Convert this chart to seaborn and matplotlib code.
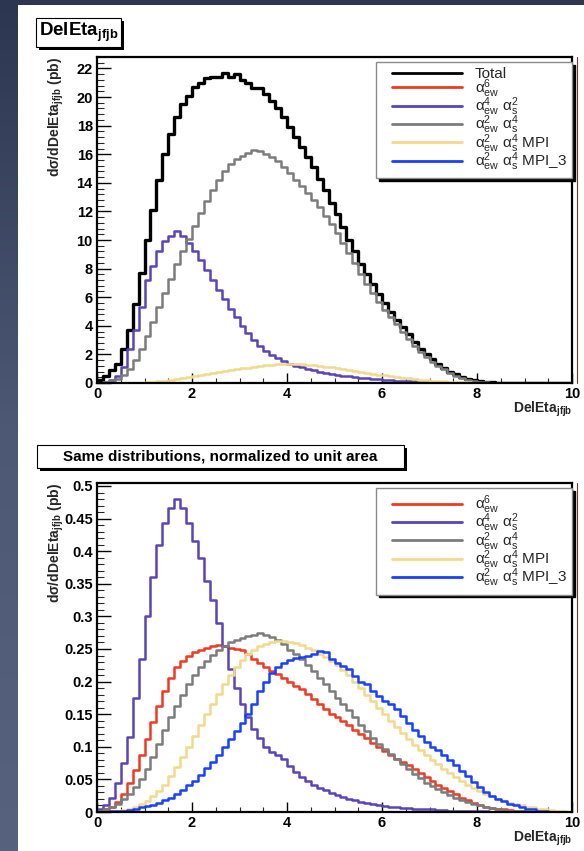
import numpy as np
import pandas as pd
import seaborn as sns
import matplotlib.pyplot as plt
from matplotlib.lines import Line2D
from matplotlib.patches import Rectangle
from matplotlib.legend_handler import HandlerLine2D
from matplotlib.ticker import MultipleLocator, FuncFormatter
from matplotlib.colors import LinearSegmentedColormap

sns.set_theme(style="white")
plt.rcParams['font.family'] = ['Liberation Sans', 'DejaVu Sans']
plt.rcParams['mathtext.fontset'] = 'custom'
plt.rcParams['mathtext.rm'] = 'Liberation Sans'
plt.rcParams['mathtext.it'] = 'Liberation Sans:italic'
plt.rcParams['mathtext.bf'] = 'Liberation Sans:bold'
plt.rcParams['mathtext.default'] = 'regular'

# 80 bins of width 0.125 on DelEta_jfjb in [0, 10]
n_bins = 80
bin_centers = (np.arange(n_bins) + 0.5) * 0.125

# ---- top pad: d sigma / d DelEta (pb) ----
top_total = [
    0.2, 0.5, 0.9, 1.3, 2.4, 3.7, 5.5, 7.7, 10.0, 12.1,
    14.2, 16.0, 17.4, 18.6, 19.5, 20.1, 20.7, 21.0, 21.3, 21.4,
    21.4, 21.7, 21.4, 21.6, 21.2, 21.0, 20.6, 20.6, 20.2, 19.7,
    19.2, 18.6, 17.9, 17.2, 16.5, 15.8, 15.1, 14.3, 13.5, 12.6,
    11.8, 10.9, 10.0, 9.2, 8.3, 7.6, 6.9, 6.2, 5.6, 5.0,
    4.4, 3.9, 3.4, 2.9, 2.4, 2.0, 1.65, 1.35, 1.05, 0.8,
    0.6, 0.42, 0.28, 0.18, 0.11, 0.06, 0.04, 0.02, 0.01, 0,
    0, 0, 0, 0, 0, 0, 0, 0, 0, 0,
]
top_ew6 = [
    0, 0, 0, 0, 0, 0, 0, 0, 0, 0,
    0, 0, 0, 0, 0, 0, 0, 0, 0, 0,
    0, 0, 0, 0, 0, 0, 0, 0, 0, 0,
    0, 0, 0, 0, 0, 0, 0, 0, 0, 0,
    0, 0, 0, 0, 0, 0, 0, 0, 0, 0,
    0, 0, 0, 0, 0, 0, 0, 0, 0, 0,
    0, 0, 0, 0, 0, 0, 0, 0, 0, 0,
    0, 0, 0, 0, 0, 0, 0, 0, 0, 0,
]
top_ew4s2 = [
    0.0, 0.05, 0.2, 0.5, 1.1, 2.4, 3.7, 5.3, 7.2, 8.2,
    9.2, 9.9, 10.3, 10.6, 10.3, 9.8, 9.2, 8.6, 7.9, 7.2,
    6.5, 5.9, 5.2, 4.6, 4.0, 3.5, 3.0, 2.6, 2.25, 1.95,
    1.72, 1.52, 1.36, 1.22, 1.09, 0.98, 0.88, 0.79, 0.71, 0.64,
    0.57, 0.51, 0.46, 0.41, 0.37, 0.33, 0.29, 0.26, 0.23, 0.2,
    0.17, 0.15, 0.13, 0.11, 0.09, 0.07, 0.06, 0.05, 0.04, 0.03,
    0.02, 0.01, 0, 0, 0, 0, 0, 0, 0, 0,
    0, 0, 0, 0, 0, 0, 0, 0, 0, 0,
]
top_ew2s4 = [
    0.0, 0.05, 0.15, 0.3, 0.55, 1.0, 1.6, 2.4, 3.3, 4.3,
    5.3, 6.3, 7.3, 8.3, 9.2, 10.1, 11.0, 11.9, 12.7, 13.5,
    14.2, 14.8, 15.3, 15.7, 15.9, 16.1, 16.3, 16.2, 16.0, 15.8,
    15.5, 15.1, 14.7, 14.2, 13.8, 13.3, 12.8, 12.3, 11.7, 11.1,
    10.5, 9.8, 9.1, 8.4, 7.6, 6.9, 6.3, 5.7, 5.1, 4.6,
    4.1, 3.6, 3.1, 2.6, 2.2, 1.8, 1.5, 1.2, 0.95, 0.72,
    0.52, 0.36, 0.24, 0.15, 0.09, 0.05, 0.03, 0.02, 0.01, 0,
    0, 0, 0, 0, 0, 0, 0, 0, 0, 0,
]
top_mpi = [
    0, 0, 0, 0, 0, 0.01, 0.02, 0.03, 0.05, 0.08,
    0.12, 0.16, 0.21, 0.27, 0.33, 0.4, 0.46, 0.53, 0.6, 0.67,
    0.74, 0.81, 0.88, 0.95, 1.02, 1.08, 1.14, 1.2, 1.25, 1.29,
    1.32, 1.35, 1.35, 1.34, 1.32, 1.29, 1.25, 1.2, 1.15, 1.09,
    1.03, 0.97, 0.9, 0.84, 0.77, 0.71, 0.65, 0.59, 0.53, 0.47,
    0.42, 0.37, 0.32, 0.28, 0.24, 0.2, 0.17, 0.14, 0.11, 0.09,
    0.07, 0.05, 0.04, 0.03, 0.02, 0.01, 0, 0, 0, 0,
    0, 0, 0, 0, 0, 0, 0, 0, 0, 0,
]
top_mpi3 = [
    0, 0, 0, 0, 0, 0, 0, 0, 0, 0,
    0, 0, 0, 0, 0, 0, 0, 0, 0, 0,
    0, 0, 0, 0, 0, 0, 0, 0, 0, 0,
    0, 0, 0, 0, 0, 0, 0, 0, 0, 0,
    0, 0, 0, 0, 0, 0, 0, 0, 0, 0,
    0, 0, 0, 0, 0, 0, 0, 0, 0, 0,
    0, 0, 0, 0, 0, 0, 0, 0, 0, 0,
    0, 0, 0, 0, 0, 0, 0, 0, 0, 0,
]

# ---- bottom pad: same distributions normalized to unit area ----
norm_ew6 = [
    0.002, 0.004, 0.007, 0.015, 0.028, 0.045, 0.065, 0.088, 0.112, 0.138,
    0.163, 0.185, 0.205, 0.222, 0.232, 0.24, 0.245, 0.249, 0.252, 0.255,
    0.256, 0.254, 0.252, 0.25, 0.248, 0.243, 0.235, 0.228, 0.222, 0.217,
    0.212, 0.206, 0.2, 0.194, 0.188, 0.181, 0.174, 0.166, 0.158, 0.151,
    0.145, 0.139, 0.133, 0.126, 0.119, 0.113, 0.106, 0.099, 0.093, 0.088,
    0.082, 0.077, 0.072, 0.066, 0.06, 0.054, 0.047, 0.042, 0.037, 0.032,
    0.027, 0.022, 0.018, 0.014, 0.011, 0.008, 0.006, 0.005, 0.004, 0.003,
    0.002, 0.001, 0, 0, 0, 0, 0, 0, 0, 0,
]
norm_ew4s2 = [
    0.004, 0.01, 0.022, 0.045, 0.075, 0.115, 0.175, 0.235, 0.3, 0.36,
    0.41, 0.443, 0.466, 0.48, 0.466, 0.443, 0.415, 0.39, 0.355, 0.325,
    0.29, 0.255, 0.22, 0.19, 0.165, 0.145, 0.128, 0.113, 0.1, 0.092,
    0.087, 0.082, 0.07, 0.062, 0.054, 0.047, 0.042, 0.037, 0.033, 0.029,
    0.026, 0.023, 0.02, 0.018, 0.016, 0.014, 0.012, 0.011, 0.009, 0.008,
    0.007, 0.006, 0.006, 0.005, 0.005, 0.004, 0.004, 0.003, 0.003, 0.002,
    0.002, 0.002, 0.001, 0.001, 0.001, 0.001, 0, 0, 0, 0,
    0, 0, 0, 0, 0, 0, 0, 0, 0, 0,
]
norm_ew2s4 = [
    0.002, 0.004, 0.008, 0.013, 0.02, 0.028, 0.038, 0.05, 0.066, 0.085,
    0.105, 0.125, 0.145, 0.163, 0.18, 0.196, 0.21, 0.222, 0.232, 0.241,
    0.249, 0.255, 0.26, 0.264, 0.267, 0.27, 0.272, 0.274, 0.272, 0.269,
    0.264, 0.257, 0.249, 0.242, 0.234, 0.225, 0.216, 0.206, 0.196, 0.186,
    0.175, 0.166, 0.156, 0.145, 0.134, 0.124, 0.114, 0.105, 0.097, 0.089,
    0.081, 0.074, 0.066, 0.059, 0.052, 0.045, 0.04, 0.035, 0.03, 0.026,
    0.022, 0.018, 0.015, 0.012, 0.01, 0.008, 0.006, 0.004, 0.003, 0.002,
    0.001, 0.001, 0, 0, 0, 0, 0, 0, 0, 0,
]
norm_mpi = [
    0, 0, 0.001, 0.002, 0.003, 0.005, 0.008, 0.012, 0.017, 0.024,
    0.032, 0.042, 0.055, 0.069, 0.085, 0.1, 0.117, 0.133, 0.15, 0.166,
    0.181, 0.196, 0.21, 0.222, 0.233, 0.242, 0.249, 0.254, 0.258, 0.26,
    0.262, 0.263, 0.261, 0.259, 0.256, 0.252, 0.248, 0.243, 0.238, 0.232,
    0.225, 0.218, 0.21, 0.2, 0.19, 0.18, 0.17, 0.16, 0.15, 0.14,
    0.13, 0.121, 0.112, 0.103, 0.095, 0.087, 0.08, 0.073, 0.066, 0.06,
    0.054, 0.048, 0.042, 0.037, 0.032, 0.028, 0.024, 0.02, 0.017, 0.014,
    0.012, 0.01, 0.008, 0.007, 0.005, 0.004, 0.003, 0.002, 0.001, 0,
]
norm_mpi3 = [
    0, 0, 0.001, 0.001, 0.002, 0.003, 0.005, 0.007, 0.009, 0.011,
    0.014, 0.018, 0.022, 0.028, 0.034, 0.041, 0.048, 0.057, 0.067, 0.077,
    0.088, 0.1, 0.112, 0.124, 0.137, 0.15, 0.165, 0.185, 0.2, 0.213,
    0.222, 0.229, 0.233, 0.236, 0.237, 0.24, 0.243, 0.247, 0.245, 0.235,
    0.228, 0.224, 0.219, 0.208, 0.2, 0.196, 0.186, 0.178, 0.17, 0.165,
    0.158, 0.148, 0.136, 0.126, 0.116, 0.108, 0.1, 0.095, 0.087, 0.08,
    0.072, 0.063, 0.055, 0.046, 0.038, 0.03, 0.025, 0.02, 0.017, 0.013,
    0.01, 0.007, 0.005, 0.004, 0.002, 0.001, 0, 0, 0, 0,
]

labels = {
    'total': 'Total',
    'ew6': r'$\alpha_{ew}^{6}$',
    'ew4s2': r'$\alpha_{ew}^{4}\ \alpha_{s}^{2}$',
    'ew2s4': r'$\alpha_{ew}^{2}\ \alpha_{s}^{4}$',
    'mpi': r'$\alpha_{ew}^{2}\ \alpha_{s}^{4}$ MPI',
    'mpi3': r'$\alpha_{ew}^{2}\ \alpha_{s}^{4}$ MPI_3',
}
colors = {
    'total': '#000000',
    'ew6': '#ee3a24',
    'ew4s2': '#5a44b8',
    'ew2s4': '#7c7c7c',
    'mpi': '#f2d98c',
    'mpi3': '#1840ff',
}

W, H = 584, 851
fig = plt.figure(figsize=(W / 100, H / 100), dpi=100)


def px_rect(x0, y0, x1, y1):
    return [x0 / W, 1 - y1 / H, (x1 - x0) / W, (y1 - y0) / H]


# slide background + white panel
bg = fig.add_axes([0, 0, 1, 1], zorder=-10)
cmap = LinearSegmentedColormap.from_list('slide', ['#2d3650', '#4c5874', '#56627e'])
bg.imshow(np.linspace(0, 1, 256).reshape(-1, 1), cmap=cmap, aspect='auto', extent=[0, 1, 0, 1])
bg.set_axis_off()
fig.add_artist(Rectangle((18 / W, 0), 1, 1 - 5 / H, transform=fig.transFigure,
                         facecolor='white', edgecolor='none', zorder=-5))


def title_box(x0, y0, x1, y1, text, size):
    fig.add_artist(Rectangle(((x0 + 3) / W, 1 - (y1 + 3) / H), (x1 - x0) / W, (y1 - y0) / H,
                             transform=fig.transFigure, facecolor='black', edgecolor='none'))
    fig.add_artist(Rectangle((x0 / W, 1 - y1 / H), (x1 - x0) / W, (y1 - y0) / H,
                             transform=fig.transFigure, facecolor='white', edgecolor='black', lw=0.8))
    fig.text((x0 + x1) / 2 / W, 1 - (y0 + y1) / 2 / H, text, ha='center', va='center',
             fontsize=size, fontweight='bold', color='black')


def pad_edge(y0, y1):
    # thin reddish pad border on the right of each pad
    fig.add_artist(Line2D([577 / W, 577 / W], [1 - y1 / H, 1 - y0 / H], transform=fig.transFigure,
                          color='#7a3426', lw=0.8))


def draw_hist(ax, values, key, lw):
    df = pd.DataFrame({'deleta': bin_centers, 'xsec': values})
    sns.histplot(data=df, x='deleta', weights='xsec', bins=n_bins, binrange=(0, 10),
                 element='step', fill=False, color=colors[key], linewidth=lw, ax=ax)


def style_axes(ax, ymax, ymajor, yminor, axis_h):
    ax.set_xlim(0, 10)
    ax.set_ylim(0, ymax)
    ax.set_facecolor('white')
    ax.xaxis.set_major_locator(MultipleLocator(2))
    ax.xaxis.set_minor_locator(MultipleLocator(0.5))
    ax.yaxis.set_major_locator(MultipleLocator(ymajor))
    ax.yaxis.set_minor_locator(MultipleLocator(yminor))
    ax.yaxis.set_major_formatter(FuncFormatter(lambda v, p: f'{v:g}'))
    ax.tick_params(axis='y', which='major', direction='in', length=10, width=1.0,
                   left=True, right=False, labelsize=10.5, pad=3, colors='black')
    ax.tick_params(axis='y', which='minor', direction='in', length=5, width=0.8, left=True, right=False)
    ax.tick_params(axis='x', which='major', direction='in', length=7, width=1.0,
                   bottom=True, top=False, labelsize=10.5, pad=3, colors='black')
    ax.tick_params(axis='x', which='minor', direction='in', length=3.5, width=0.8, bottom=True, top=False)
    for lab in ax.get_xticklabels() + ax.get_yticklabels():
        lab.set_fontweight('bold')
    for sp in ax.spines.values():
        sp.set_visible(True)
        sp.set_color('black')
        sp.set_linewidth(1.6)
    ax.grid(False)
    ax.set_xlabel(r'DelEta$_{\mathbf{jfjb}}$', loc='right', fontsize=10, fontweight='bold')
    ax.xaxis.set_label_coords(1.0, -17 / axis_h)
    ax.set_ylabel(r'd$\sigma$/dDelEta$_{\mathbf{jfjb}}$ (pb)', loc='top', fontsize=10, fontweight='bold')
    ax.yaxis.set_label_coords(-31 / 475, 1.0)


def add_legend(ax, keys, spacing):
    handles = [Line2D([], [], color=colors[k], lw=2.0) for k in keys]
    ax.legend(handles, [labels[k] for k in keys], loc='upper right', bbox_to_anchor=(1.0, 0.985),
              frameon=True, fancybox=False, edgecolor='#8a8a8a', facecolor='white', framealpha=1,
              shadow={'color': 'black', 'alpha': 1.0}, fontsize=11, handlelength=5.3,
              handletextpad=0.8, labelspacing=spacing, borderpad=0.35, borderaxespad=0,
              handler_map={Line2D: HandlerLine2D(xpad=0.72)})


# top pad
ax_top = fig.add_axes(px_rect(97, 57, 572, 383))
top_series = [('total', top_total, 2.4), ('ew6', top_ew6, 1.8), ('ew4s2', top_ew4s2, 1.8),
              ('ew2s4', top_ew2s4, 1.8), ('mpi', top_mpi, 1.8), ('mpi3', top_mpi3, 1.8)]
for key, vals, lw in top_series:
    draw_hist(ax_top, vals, key, lw)
style_axes(ax_top, 22.8, 2, 0.4, 326)
add_legend(ax_top, ['total', 'ew6', 'ew4s2', 'ew2s4', 'mpi', 'mpi3'], -0.28)

# bottom pad
ax_bot = fig.add_axes(px_rect(97, 483, 572, 812))
bot_series = [('ew6', norm_ew6), ('ew4s2', norm_ew4s2), ('ew2s4', norm_ew2s4),
              ('mpi', norm_mpi), ('mpi3', norm_mpi3)]
for key, vals in bot_series:
    draw_hist(ax_bot, vals, key, 1.8)
style_axes(ax_bot, 0.5046, 0.05, 0.01, 329)
add_legend(ax_bot, ['ew6', 'ew4s2', 'ew2s4', 'mpi', 'mpi3'], -0.28)

pad_edge(57, 383)
pad_edge(483, 812)
title_box(36, 18, 121, 47, r'DelEta$_{\mathbf{jfjb}}$', 13.5)
title_box(37, 445, 404, 468, 'Same distributions, normalized to unit area', 11)

fig.savefig('out.png', dpi=100)
